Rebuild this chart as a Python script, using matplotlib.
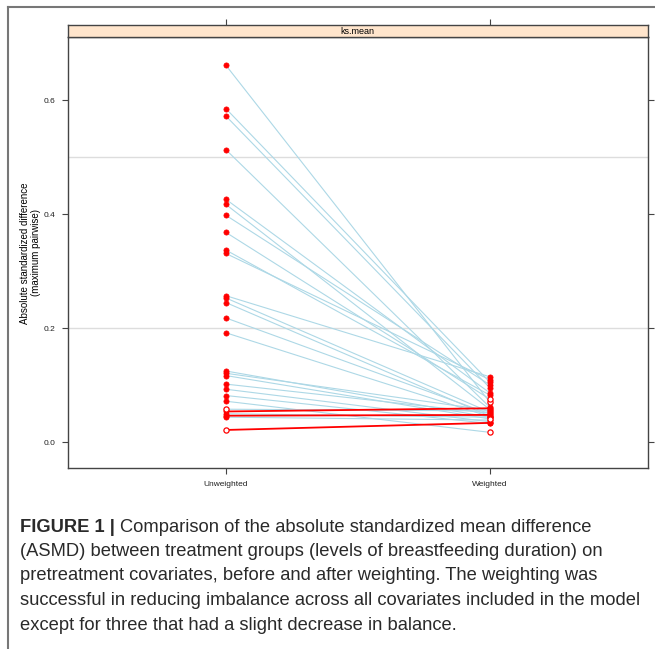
import matplotlib
matplotlib.use("Agg")
import matplotlib.pyplot as plt
import numpy as np
from matplotlib.lines import Line2D

plt.rcParams["font.family"] = ["Liberation Sans", "DejaVu Sans"]

# ASMD (ks.mean) per covariate, before and after weighting
unweighted = [0.661, 0.585, 0.572, 0.513, 0.426, 0.417, 0.398, 0.368, 0.337, 0.331,
              0.257, 0.253, 0.245, 0.218, 0.192, 0.125, 0.121, 0.117, 0.102, 0.093,
              0.082, 0.072, 0.058, 0.054, 0.050, 0.0466, 0.044, 0.0216]
weighted = [0.071, 0.106, 0.096, 0.062, 0.087, 0.058, 0.101, 0.076, 0.083, 0.110,
            0.115, 0.053, 0.046, 0.050, 0.045, 0.044, 0.056, 0.041, 0.051, 0.036,
            0.033, 0.0175, 0.055, 0.0596, 0.044, 0.048, 0.039, 0.034]
# filled = significant difference, open = not significant
unw_filled = [True] * 22 + [False, True, True, True, True, False]
w_filled = [False, True, True, True, True, True, True, False, True, True,
            True, True, True, True, True, True, True, False, True, True,
            True, False, True, True, True, True, True, True]

groups = ["Unweighted", "Weighted"]
strip_label = "ks.mean"
y_ticks = [0.0, 0.2, 0.4, 0.6]
ref_lines = [0.2, 0.5]

caption_bold = "FIGURE 1 | "
caption_lines = [
    "Comparison of the absolute standardized mean difference",
    "(ASMD) between treatment groups (levels of breastfeeding duration) on",
    "pretreatment covariates, before and after weighting. The weighting was",
    "successful in reducing imbalance across all covariates included in the model",
    "except for three that had a slight decrease in balance.",
]

W, H = 655, 649
fig = plt.figure(figsize=(W / 100, H / 100), dpi=100)
edge = "#444444"

ax = fig.add_axes([67.7 / W, 1 - 468.3 / H, 580 / W, 431 / H])
strip = fig.add_axes([67.7 / W, 1 - 37.3 / H, 580 / W, 12.3 / H])

xs = [1, 2]
for y in ref_lines:
    ax.axhline(y, color="#dddddd", lw=1, zorder=0)

for u, w in zip(unweighted, weighted):
    if w > u:
        ax.plot(xs, [u, w], color="red", lw=1.3, zorder=2)
    else:
        ax.plot(xs, [u, w], color="lightblue", lw=0.8, zorder=1)

for xpos, vals, filled in [(1, unweighted, unw_filled), (2, weighted, w_filled)]:
    vals = np.array(vals)
    filled = np.array(filled)
    ax.scatter(np.full(filled.sum(), xpos), vals[filled], s=14, color="red",
               edgecolors="red", linewidths=0.5, zorder=3)
    ax.scatter(np.full((~filled).sum(), xpos), vals[~filled], s=14, facecolors="white",
               edgecolors="red", linewidths=0.9, zorder=3)

ax.set_xlim(0.4, 2.6)
ax.set_ylim(-0.0456, 0.71)
ax.set_xticks(xs)
ax.set_xticklabels(groups, fontsize=6)
ax.set_yticks(y_ticks)
ax.set_yticklabels([f"{v:.1f}" for v in y_ticks], fontsize=6)
ax.tick_params(axis="both", direction="out", length=4, width=0.8, color=edge,
               labelcolor="#222222", pad=5)
ax.tick_params(axis="y", right=True, labelright=False)
for sp in ax.spines.values():
    sp.set_color(edge)
    sp.set_linewidth(1)
ax.set_ylabel("Absolute standardized difference\n(maximum pairwise)", fontsize=7,
              labelpad=2, linespacing=1.1)

strip.set_facecolor("#ffe5cc")
strip.set_xlim(0.4, 2.6)
strip.set_ylim(0, 1)
strip.set_yticks([])
strip.set_xticks(xs)
strip.tick_params(axis="x", bottom=False, labelbottom=False, top=True, labeltop=False,
                  direction="out", length=4, width=0.8, color=edge)
for sp in strip.spines.values():
    sp.set_color(edge)
    sp.set_linewidth(1)
strip.text(1.5, 0.5, strip_label, ha="center", va="center", fontsize=6.5)

# journal frame
fig.add_artist(Line2D([8 / W, 1], [1 - 6.5 / H, 1 - 6.5 / H], color="#777777", lw=1.5))
fig.add_artist(Line2D([8 / W, 8 / W], [0, 1 - 6.5 / H], color="#777777", lw=1.5))

# caption
fig.canvas.draw()
renderer = fig.canvas.get_renderer()
x0 = 20 / W
fs = 13.2
line_y = [527, 551.5, 576, 600.5, 625]
tb = fig.text(x0, 1 - line_y[0] / H, caption_bold, fontsize=fs, fontweight="bold",
              va="center", color="#2a2a2a")
bb = tb.get_window_extent(renderer)
fig.text(bb.x1 / W, 1 - line_y[0] / H, caption_lines[0], fontsize=fs, va="center",
         color="#2a2a2a")
for yy, line in zip(line_y[1:], caption_lines[1:]):
    fig.text(x0, 1 - yy / H, line, fontsize=fs, va="center", color="#2a2a2a")

fig.savefig("out.png", dpi=100)
